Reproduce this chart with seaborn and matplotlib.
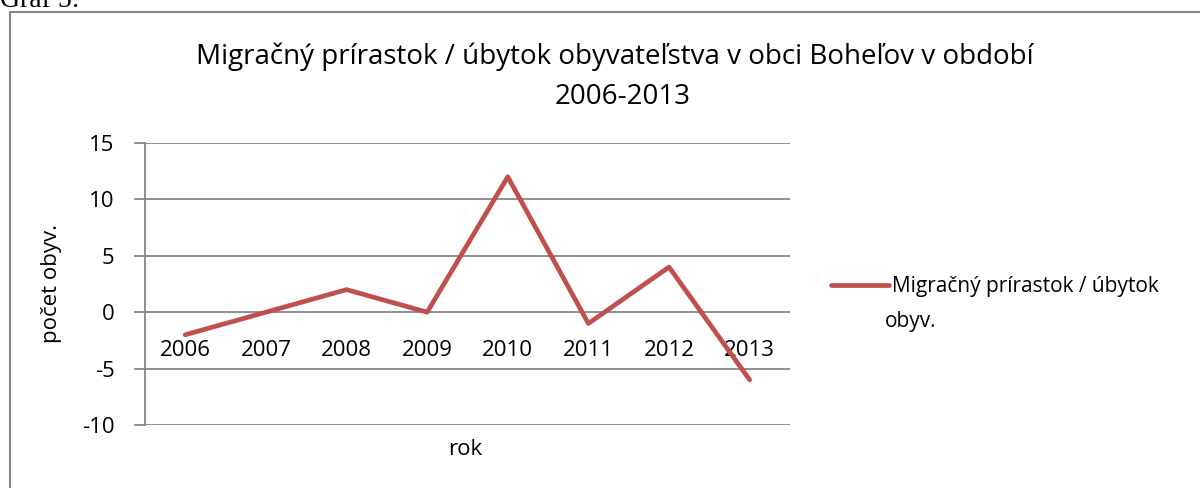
import pandas as pd
import seaborn as sns
import matplotlib.pyplot as plt
from matplotlib.patches import Rectangle

# data
roky = ['2006', '2007', '2008', '2009', '2010', '2011', '2012', '2013']
prirastok = [-2, 0, 2, 0, 12, -1, 4, -6]
y_ticks = [-10, -5, 0, 5, 10, 15]

seria = 'Migračný prírastok / úbytok'
data = pd.DataFrame({'rok': roky, 'pocet': prirastok})

sns.set_theme(style="white")
plt.rcParams['font.family'] = ['Open Sans', 'DejaVu Sans']
plt.rcParams['axes.unicode_minus'] = False
plt.rcParams['text.color'] = 'black'
plt.rcParams['axes.labelcolor'] = 'black'

fig = plt.figure(figsize=(12, 4.88), dpi=100)
ax = fig.add_axes([0.1208, 0.1291, 0.5375, 0.5779])

sns.lineplot(data=data, x='rok', y='pocet', color='#C0504D', linewidth=3.4,
             label=seria, ax=ax, solid_capstyle='round')

grid_col = '#868686'
ax.set_xlim(-0.5, 7.5)
ax.set_ylim(-10, 15)
ax.set_yticks(y_ticks)
ax.yaxis.grid(True, color=grid_col, linewidth=1.3)
ax.set_axisbelow(True)
for s in ['top', 'right']:
    ax.spines[s].set_visible(False)
ax.spines['left'].set_color(grid_col)
ax.spines['left'].set_linewidth(1.3)
ax.spines['bottom'].set_position(('data', 0))
ax.spines['bottom'].set_visible(False)
ax.tick_params(axis='y', left=True, length=8, width=1.3, color=grid_col,
               labelsize=16, pad=14, labelcolor='black')
ax.tick_params(axis='x', bottom=False, length=0, labelsize=16, pad=20,
               labelcolor='black')
ax.set_xlabel('')
ax.set_ylabel('počet obyv.', fontsize=16, labelpad=14)
fig.text(0.3875, 0.078, 'rok', fontsize=16, ha='center', va='center')

# title
fig.text(0.512, 0.884, 'Migračný prírastok / úbytok obyvateľstva v obci Boheľov v období',
         fontsize=20, ha='center', va='center')
fig.text(0.519, 0.802, '2006-2013', fontsize=20, ha='center', va='center')

# legenda - druhy riadok zvlast, aby ciara bola pri prvom riadku
ax.legend(loc='center left', bbox_to_anchor=(1.05, (425 - 287) / 282), frameon=False,
          fontsize=15, handlelength=2.8, handletextpad=0.15, borderaxespad=0)
fig.text(885 / 1200, 1 - 322 / 488, 'obyv.', fontsize=15, ha='left', va='center')

# ramcek grafu
fig.patches.append(Rectangle((10 / 1200, -0.05), 1.2, 1 - 12 / 488 + 0.05,
                             transform=fig.transFigure, fill=False,
                             edgecolor=grid_col, linewidth=1.5))
fig.text(0.0, 1 - 7 / 488, 'Graf 5:', family='Liberation Serif', fontsize=20,
         ha='left', va='baseline')

fig.savefig('out.png', dpi=100)
